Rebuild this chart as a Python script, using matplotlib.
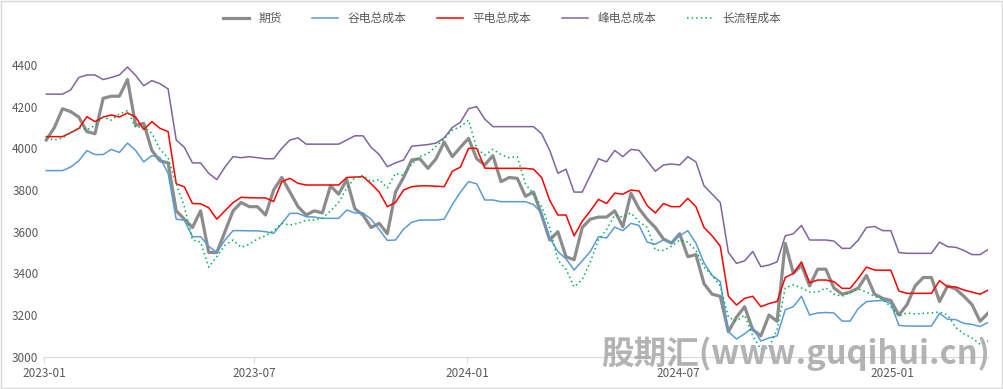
import matplotlib
matplotlib.use('Agg')
import matplotlib.pyplot as plt
import matplotlib.dates as mdates
from matplotlib.patches import Rectangle
import pandas as pd

plt.rcParams['font.family'] = ['Noto Sans CJK SC', 'DejaVu Sans']

# weekly observations, 2023-01-03 .. 2025-03-25
dates = pd.date_range('2023-01-03', periods=117, freq='7D')

futures = [4040, 4100, 4190, 4176, 4150, 4080, 4070, 4240, 4250, 4250, 4330, 4110, 4120, 3990,
           3940, 3930, 3700, 3660, 3620, 3700, 3500, 3500, 3600, 3700, 3740, 3720, 3720, 3680,
           3800, 3860, 3790, 3720, 3680, 3700, 3690, 3820, 3780, 3850, 3710, 3680, 3620, 3640,
           3590, 3790, 3860, 3944, 3950, 3904, 3950, 4030, 3960, 4005, 4048, 3950, 3920, 3965,
           3840, 3860, 3856, 3770, 3790, 3680, 3560, 3600, 3480, 3465, 3620, 3660, 3670, 3670,
           3700, 3624, 3784, 3710, 3660, 3620, 3565, 3545, 3590, 3480, 3490, 3350, 3300, 3290,
           3120, 3190, 3240, 3130, 3100, 3200, 3170, 3544, 3400, 3440, 3340, 3420, 3420, 3330,
           3300, 3310, 3330, 3390, 3300, 3280, 3270, 3200, 3250, 3340, 3380, 3380, 3265, 3340,
           3325, 3290, 3250, 3170, 3210]

valley_cost = [3893, 3893, 3893, 3910, 3940, 3989, 3970, 3970, 3995, 3980, 4025, 3990, 3935, 3965,
               3955, 3880, 3660, 3655, 3576, 3576, 3530, 3500, 3560, 3605, 3605, 3604, 3604, 3600,
               3592, 3640, 3688, 3688, 3672, 3670, 3664, 3664, 3664, 3704, 3690, 3690, 3660, 3610,
               3558, 3560, 3612, 3645, 3656, 3656, 3656, 3660, 3730, 3790, 3840, 3830, 3752, 3752,
               3744, 3744, 3744, 3744, 3730, 3690, 3570, 3505, 3470, 3416, 3460, 3505, 3576, 3570,
               3622, 3605, 3640, 3630, 3550, 3540, 3560, 3550, 3580, 3605, 3545, 3450, 3390, 3360,
               3120, 3085, 3110, 3140, 3075, 3090, 3100, 3225, 3240, 3290, 3200, 3210, 3212, 3210,
               3171, 3171, 3232, 3264, 3268, 3270, 3256, 3150, 3147, 3147, 3147, 3147, 3208, 3180,
               3178, 3160, 3155, 3145, 3165]

flat_cost = [4056, 4056, 4056, 4075, 4095, 4152, 4128, 4150, 4160, 4150, 4170, 4150, 4090, 4128,
             4096, 4080, 3830, 3815, 3735, 3734, 3715, 3660, 3700, 3740, 3765, 3763, 3762, 3762,
             3745, 3840, 3856, 3832, 3824, 3824, 3824, 3824, 3824, 3860, 3862, 3864, 3830, 3790,
             3720, 3740, 3800, 3816, 3820, 3820, 3818, 3816, 3890, 3910, 4000, 4000, 3905, 3904,
             3904, 3904, 3904, 3904, 3900, 3860, 3750, 3680, 3680, 3580, 3650, 3700, 3755, 3735,
             3785, 3780, 3800, 3795, 3725, 3690, 3735, 3720, 3720, 3760, 3720, 3620, 3580, 3530,
             3290, 3248, 3280, 3290, 3240, 3255, 3265, 3380, 3400, 3455, 3355, 3368, 3368, 3360,
             3328, 3328, 3376, 3430, 3416, 3415, 3415, 3315, 3304, 3304, 3304, 3304, 3365, 3335,
             3335, 3320, 3310, 3300, 3320]

peak_cost = [4260, 4260, 4260, 4280, 4340, 4352, 4352, 4330, 4340, 4352, 4390, 4350, 4300, 4325,
             4310, 4285, 4040, 4005, 3930, 3930, 3880, 3850, 3910, 3960, 3955, 3960, 3955, 3950,
             3950, 4000, 4040, 4050, 4020, 4020, 4020, 4020, 4020, 4040, 4060, 4060, 4005, 3970,
             3912, 3930, 3944, 4010, 4014, 4018, 4025, 4050, 4100, 4125, 4190, 4200, 4140, 4104,
             4104, 4104, 4104, 4104, 4104, 4070, 3990, 3880, 3900, 3790, 3790, 3870, 3950, 3935,
             3990, 3960, 3995, 3990, 3940, 3890, 3920, 3925, 3920, 3960, 3935, 3820, 3780, 3740,
             3500, 3448, 3460, 3505, 3432, 3440, 3455, 3580, 3590, 3630, 3560, 3560, 3560, 3555,
             3520, 3520, 3560, 3620, 3625, 3605, 3605, 3500, 3496, 3496, 3496, 3496, 3550, 3528,
             3525, 3510, 3490, 3490, 3515]

long_process = [4050, 4040, 4050, 4075, 4100, 4088, 4110, 4150, 4135, 4165, 4180, 4100, 4104, 4072,
                3995, 3955, 3830, 3720, 3560, 3550, 3430, 3480, 3535, 3560, 3525, 3540, 3565, 3580,
                3605, 3640, 3632, 3640, 3655, 3656, 3665, 3700, 3740, 3808, 3860, 3870, 3840, 3850,
                3810, 3880, 3870, 3925, 3960, 3975, 4010, 4045, 4088, 4104, 4135, 4000, 3968, 3995,
                3970, 3955, 3960, 3830, 3780, 3720, 3620, 3464, 3420, 3335, 3370, 3455, 3560, 3610,
                3680, 3670, 3690, 3648, 3620, 3512, 3510, 3530, 3560, 3550, 3510, 3430, 3390, 3340,
                3190, 3170, 3200, 3100, 3035, 3045, 3130, 3330, 3345, 3330, 3310, 3310, 3330, 3300,
                3290, 3310, 3325, 3310, 3290, 3275, 3240, 3195, 3210, 3205, 3208, 3210, 3215, 3200,
                3140, 3110, 3090, 3060, 3075]

y_ticks = [3000, 3200, 3400, 3600, 3800, 4000, 4200, 4400]

fig = plt.figure(figsize=(10.04, 3.89), dpi=100)
ax = fig.add_axes([0.0438, 0.083, 0.9405, 0.75])

ax.plot(dates, futures, color='#8C8C8C', lw=2.3, label='期货', solid_joinstyle='round')
ax.plot(dates, valley_cost, color='#5B9BD5', lw=1.1, label='谷电总成本')
ax.plot(dates, flat_cost, color='#FF0000', lw=1.1, label='平电总成本')
ax.plot(dates, peak_cost, color='#8064A2', lw=1.1, label='峰电总成本')
ax.plot(dates, long_process, color='#00B050', lw=1.1, ls=(0, (1, 2)), label='长流程成本')

ax.set_ylim(3000, 4400)
ax.set_yticks(y_ticks)
ax.set_xlim(pd.Timestamp('2023-01-01'), dates[-1])
ax.xaxis.set_major_locator(mdates.MonthLocator(bymonth=[1, 7]))
ax.xaxis.set_major_formatter(mdates.DateFormatter('%Y-%m'))

for s in ['top', 'right', 'left']:
    ax.spines[s].set_visible(False)
ax.spines['bottom'].set_color('#D9D9D9')
ax.tick_params(axis='y', length=0, labelsize=8.5, labelcolor='#595959', pad=4)
ax.tick_params(axis='x', length=4, color='#D9D9D9', labelsize=8.5, labelcolor='#595959')

ax.legend(loc='center', bbox_to_anchor=(0.485, 1.16), ncol=5, frameon=False,
          fontsize=8.5, handlelength=2.2, columnspacing=2.6, labelcolor='#595959')

# watermark sits over the lower right corner, as in the source image
fig.text(0.792, 0.09, '股期汇(www.guqihui.cn)', ha='center', va='center',
         fontsize=23.5, fontweight='bold', color='#A6A6A6', alpha=0.85, style='italic')

fig.patches.append(Rectangle((0.001, 0.002), 0.997, 0.995, transform=fig.transFigure,
                             fill=False, edgecolor='#D9D9D9', lw=1))

fig.savefig('out.png', dpi=100)
